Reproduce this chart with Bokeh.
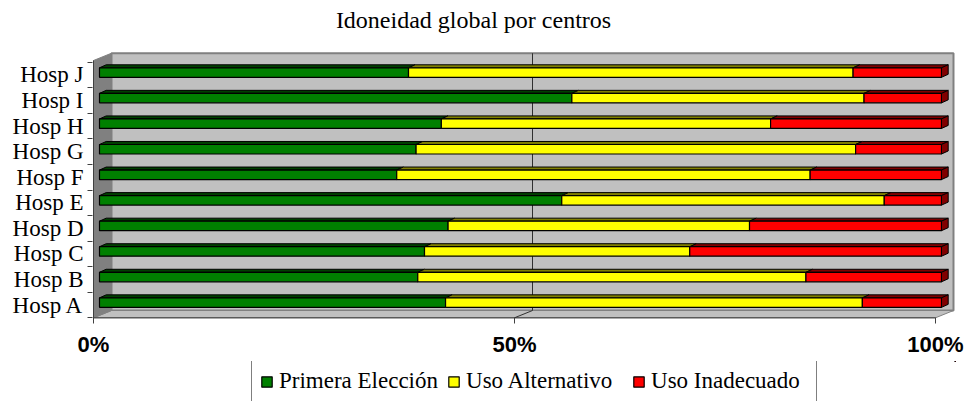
from bokeh.plotting import figure
from bokeh.models import Range1d, FixedTicker, Legend, LegendItem, Label
from bokeh.layouts import column
from bokeh.embed import file_html
from bokeh.resources import INLINE

# ---------------- data ----------------
hospitals = ["Hosp A", "Hosp B", "Hosp C", "Hosp D", "Hosp E",
             "Hosp F", "Hosp G", "Hosp H", "Hosp I", "Hosp J"]
primera_eleccion = [41.1, 37.8, 38.6, 41.4, 54.9, 35.3, 37.6, 40.6, 56.1, 36.7]
uso_alternativo = [49.5, 46.1, 31.5, 35.8, 38.3, 49.1, 52.2, 39.1, 34.7, 52.8]
uso_inadecuado = [9.4, 16.1, 29.9, 22.8, 6.8, 15.6, 10.2, 20.3, 9.2, 10.5]
series_names = ["Primera Elección", "Uso Alternativo", "Uso Inadecuado"]
x_ticks = [0, 50, 100]
x_tick_labels = ["0%", "50%", "100%"]
title_text = "Idoneidad global por centros"

# ---------------- styling / geometry ----------------
front_colors = ["#008000", "#FFFF00", "#FF0000"]
top_colors = ["#004000", "#808000", "#800000"]

W = 968
TITLE_H = 51
MAIN_H = 310
LEGEND_H = 40
BORDER_L = 92
BORDER_R = 13

PX_X = 100.0 / 842.0          # data units per pixel (x)
PX_Y = 1.0 / 25.56            # data units per pixel (y)
WALL_DX = 18.0 * PX_X         # 3-D depth of the walls
WALL_DY = 7.3 * PX_Y
BAR_OX = WALL_DX / 3.0        # bar front position inside the depth
BAR_OY = WALL_DY / 3.0
BAR_DX = 6.7 * PX_X           # bar depth
BAR_DY = 3.0 * PX_Y
BAR_H = 9.5 * PX_Y
Y_FRONT_BOTTOM = -0.5
Y_FRONT_TOP = len(hospitals) - 0.5 + 1.7 * PX_Y


def bare_figure(height, x_range, y_range):
    f = figure(width=W, height=height, x_range=x_range, y_range=y_range,
               x_axis_type=None, y_axis_type=None,
               output_backend="svg", toolbar_location=None,
               min_border_left=BORDER_L, min_border_right=BORDER_R,
               min_border_top=0, min_border_bottom=0)
    f.xgrid.visible = False
    f.ygrid.visible = False
    f.outline_line_color = None
    f.background_fill_color = "white"
    f.border_fill_color = "white"
    return f


# ---------------- title ----------------
pt = bare_figure(TITLE_H, Range1d(BORDER_L, W - BORDER_R), Range1d(TITLE_H, 0))
pt.add_layout(Label(x=473, y=19, text=title_text, text_align="center", text_baseline="alphabetic",
                    text_font="Liberation Serif", text_font_size="24px", text_color="black"))

# ---------------- main chart ----------------
p = figure(width=W, height=MAIN_H,
           x_range=Range1d(-1.0 * PX_X, 862.0 * PX_X),
           y_range=Range1d(-0.5 - 1.7 * PX_Y, -0.5 + 266.3 * PX_Y),
           output_backend="svg", toolbar_location=None,
           min_border_left=BORDER_L, min_border_right=BORDER_R,
           min_border_top=0, min_border_bottom=42)
p.xgrid.visible = False
p.ygrid.visible = False
p.outline_line_color = None
p.background_fill_color = "white"
p.border_fill_color = "white"

xmax = x_ticks[-1]
p.quad(left=[WALL_DX], right=[xmax + WALL_DX],
       bottom=[Y_FRONT_BOTTOM + WALL_DY], top=[Y_FRONT_TOP + WALL_DY],
       fill_color="#C0C0C0", line_color="#808080", line_width=2)
p.patch([0, xmax, xmax + WALL_DX, WALL_DX],
        [Y_FRONT_BOTTOM, Y_FRONT_BOTTOM, Y_FRONT_BOTTOM + WALL_DY, Y_FRONT_BOTTOM + WALL_DY],
        fill_color="#C0C0C0", line_color="#808080", line_width=1)
p.patch([0, 0, WALL_DX, WALL_DX],
        [Y_FRONT_BOTTOM, Y_FRONT_TOP, Y_FRONT_TOP + WALL_DY, Y_FRONT_BOTTOM + WALL_DY],
        fill_color="#808080", line_color="#808080", line_width=1)
p.segment(x0=[0, 0], y0=[Y_FRONT_BOTTOM, Y_FRONT_BOTTOM],
          x1=[xmax, 0], y1=[Y_FRONT_BOTTOM, Y_FRONT_TOP],
          line_color="#404040", line_width=1)

gx = [t for t in x_ticks if 0 < t < xmax]
p.segment(x0=[t + WALL_DX for t in gx], y0=[Y_FRONT_BOTTOM + WALL_DY] * len(gx),
          x1=[t + WALL_DX for t in gx], y1=[Y_FRONT_TOP + WALL_DY] * len(gx),
          line_color="#303030", line_width=1)
p.segment(x0=gx, y0=[Y_FRONT_BOTTOM] * len(gx),
          x1=[t + WALL_DX for t in gx], y1=[Y_FRONT_BOTTOM + WALL_DY] * len(gx),
          line_color="#303030", line_width=1)

series = [primera_eleccion, uso_alternativo, uso_inadecuado]
ypos = [i + BAR_OY for i in range(len(hospitals))]
segments = []
lefts = [0.0] * len(hospitals)
for k, vals in enumerate(series):
    rights = [l + v for l, v in zip(lefts, vals)]
    segments.append((list(lefts), rights))
    xs_top, ys_top = [], []
    for l, r, yc in zip(lefts, rights, ypos):
        yt = yc + BAR_H / 2
        xs_top.append([l + BAR_OX, r + BAR_OX, r + BAR_OX + BAR_DX, l + BAR_OX + BAR_DX])
        ys_top.append([yt, yt, yt + BAR_DY, yt + BAR_DY])
    p.patches(xs_top, ys_top, fill_color=top_colors[k], line_color="black", line_width=1)
    p.hbar(y=ypos, left=[l + BAR_OX for l in lefts], right=[v + BAR_OX for v in rights],
           height=BAR_H, fill_color=front_colors[k], line_color="black", line_width=1.2)
    if k == len(series) - 1:
        xs_side, ys_side = [], []
        for rr, yc in zip(rights, ypos):
            yb, yt = yc - BAR_H / 2, yc + BAR_H / 2
            xe = rr + BAR_OX
            xs_side.append([xe, xe + BAR_DX, xe + BAR_DX, xe])
            ys_side.append([yb, yb + BAR_DY, yt + BAR_DY, yt])
        p.patches(xs_side, ys_side, fill_color=top_colors[k], line_color="black", line_width=1)
    lefts = rights

xa = p.xaxis[0]
xa.ticker = FixedTicker(ticks=x_ticks)
xa.major_label_overrides = {t: lab for t, lab in zip(x_ticks, x_tick_labels)}
xa.axis_line_color = None
xa.major_tick_in = 2
xa.major_tick_out = 4
xa.major_tick_line_color = "#404040"
xa.minor_tick_line_color = None
xa.major_label_standoff = 8
xa.major_label_text_font = "Liberation Sans"
xa.major_label_text_font_style = "bold"
xa.major_label_text_font_size = "22px"
xa.major_label_text_color = "black"

ya = p.yaxis[0]
ya.ticker = FixedTicker(ticks=list(range(len(hospitals))),
                        minor_ticks=[i - 0.5 for i in range(len(hospitals) + 1)])
ya.major_label_overrides = {i: h for i, h in enumerate(hospitals)}
ya.axis_line_color = None
ya.major_tick_in = 0
ya.major_tick_out = 0
ya.minor_tick_in = 0
ya.minor_tick_out = 5
ya.minor_tick_line_color = "#404040"
ya.major_label_standoff = 4
ya.major_label_text_font = "Liberation Serif"
ya.major_label_text_font_size = "23px"
ya.major_label_text_color = "black"

# ---------------- legend (own strip; data lies outside its ranges) ----------------
pl = bare_figure(LEGEND_H, Range1d(-1000, -999), Range1d(-1000, -999))
legend_renderers = []
for k, (ls, rs) in enumerate(segments):
    legend_renderers.append(pl.hbar(y=ypos, left=ls, right=rs, height=BAR_H,
                                    fill_color=front_colors[k], line_color="black", line_width=1.2))
legend = Legend(items=[LegendItem(label=n, renderers=[r]) for n, r in zip(series_names, legend_renderers)],
                orientation="horizontal", location=(251 - BORDER_L, -2),
                padding=8, spacing=9, margin=0, label_width=157,
                glyph_width=13, glyph_height=13, label_standoff=6,
                label_text_font="Liberation Serif", label_text_font_size="23px",
                label_text_color="black",
                border_line_color="black", border_line_width=1,
                background_fill_color="white", background_fill_alpha=1.0)
pl.add_layout(legend)

layout = column(pt, p, pl, spacing=0)
open("out.html", "w").write(file_html(layout, INLINE))
